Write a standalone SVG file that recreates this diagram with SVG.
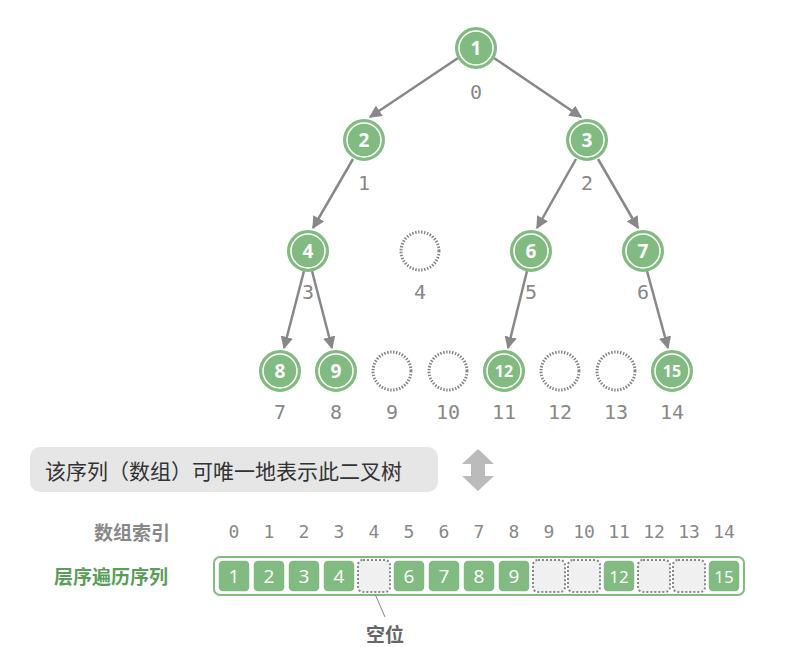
<svg xmlns="http://www.w3.org/2000/svg" width="786" height="647" viewBox="0 0 786 647">
<style>
.n circle.o{fill:#82bb82;stroke:#82bb82;stroke-width:2}
.n circle.i{fill:none;stroke:#fff;stroke-width:1.5}
.n text{fill:#fff;font:bold 19px "Open Sans","DejaVu Sans",sans-serif;text-anchor:middle;dominant-baseline:central}
.e circle{fill:#fff;stroke:#888;stroke-width:3;stroke-dasharray:1.5 1.5}
.idx{fill:#888;font:20px "DejaVu Sans Mono",monospace;text-anchor:middle;dominant-baseline:central}
.c rect.f{fill:#82bb82;stroke:#fff;stroke-width:1.5}
.c rect.g{fill:#f0f0f0;stroke:#888;stroke-width:2;stroke-dasharray:2 2}
.c text{fill:#fff;font:19px "Open Sans","DejaVu Sans",sans-serif;text-anchor:middle;dominant-baseline:central}
.ai{fill:#888;font:18px "DejaVu Sans Mono",monospace;text-anchor:middle;dominant-baseline:central}
.cn{font-family:"Noto Sans CJK SC",sans-serif}
</style>
<defs><marker id="ar" viewBox="0 0 10 10" refX="9" refY="5" markerWidth="5" markerHeight="5" orient="auto"><path d="M0 0L10 5L0 10z" fill="#888"/></marker></defs>
<g id="edges" stroke="#888" stroke-width="2.5" marker-end="url(#ar)">
<line x1="458" y1="58" x2="370" y2="117"/>
<line x1="494" y1="58" x2="581" y2="117"/>
<line x1="353" y1="159" x2="313" y2="228"/>
<line x1="576" y1="159" x2="537" y2="228"/>
<line x1="598" y1="159" x2="638" y2="228"/>
<line x1="304" y1="271" x2="284" y2="348"/>
<line x1="312" y1="271" x2="332" y2="348"/>
<line x1="527" y1="271" x2="508" y2="348"/>
<line x1="647" y1="271" x2="668" y2="348"/>
</g>
<g id="n1" class="n"><circle class="o" cx="476" cy="48" r="20"/><circle class="i" cx="476" cy="48" r="17"/><text x="476" y="48">1</text></g>
<g id="n2" class="n"><circle class="o" cx="364" cy="140" r="20"/><circle class="i" cx="364" cy="140" r="17"/><text x="364" y="140">2</text></g>
<g id="n3" class="n"><circle class="o" cx="587" cy="140" r="20"/><circle class="i" cx="587" cy="140" r="17"/><text x="587" y="140">3</text></g>
<g id="n4" class="n"><circle class="o" cx="308" cy="251" r="20"/><circle class="i" cx="308" cy="251" r="17"/><text x="308" y="251">4</text></g>
<g id="e4" class="e"><circle cx="420" cy="251" r="19"/></g>
<g id="n6" class="n"><circle class="o" cx="531" cy="251" r="20"/><circle class="i" cx="531" cy="251" r="17"/><text x="531" y="251">6</text></g>
<g id="n7" class="n"><circle class="o" cx="643" cy="251" r="20"/><circle class="i" cx="643" cy="251" r="17"/><text x="643" y="251">7</text></g>
<g id="n8" class="n"><circle class="o" cx="280" cy="371" r="20"/><circle class="i" cx="280" cy="371" r="17"/><text x="280" y="371">8</text></g>
<g id="n9" class="n"><circle class="o" cx="336" cy="371" r="20"/><circle class="i" cx="336" cy="371" r="17"/><text x="336" y="371">9</text></g>
<g id="e9" class="e"><circle cx="392" cy="371" r="19"/></g>
<g id="e10" class="e"><circle cx="448" cy="371" r="19"/></g>
<g id="n12" class="n"><circle class="o" cx="504" cy="371" r="20"/><circle class="i" cx="504" cy="371" r="17"/><text x="504" y="371" style="font-size:16px">12</text></g>
<g id="e12" class="e"><circle cx="560" cy="371" r="19"/></g>
<g id="e13" class="e"><circle cx="616" cy="371" r="19"/></g>
<g id="n15" class="n"><circle class="o" cx="672" cy="371" r="20"/><circle class="i" cx="672" cy="371" r="17"/><text x="672" y="371" style="font-size:16px">15</text></g>
<g id="idx">
<text class="idx" x="476" y="92">0</text><text class="idx" x="364" y="183">1</text><text class="idx" x="587" y="183">2</text>
<text class="idx" x="308" y="292">3</text><text class="idx" x="420" y="292">4</text><text class="idx" x="531" y="292">5</text><text class="idx" x="643" y="292">6</text>
<text class="idx" x="280" y="412">7</text><text class="idx" x="336" y="412">8</text><text class="idx" x="392" y="412">9</text><text class="idx" x="448" y="412">10</text><text class="idx" x="504" y="412">11</text><text class="idx" x="560" y="412">12</text><text class="idx" x="616" y="412">13</text><text class="idx" x="672" y="412">14</text>
</g>
<g id="caption"><rect x="30" y="447" width="408" height="45" rx="10" fill="#e6e6e6"/><text x="45" y="470" class="cn" font-size="21" fill="#333" dominant-baseline="central">该序列（数组）可唯一地表示此二叉树</text></g>
<g id="darrow" fill="#bbb"><path d="M478 449L494 464H485V476H494L478 491L462 476H471V464H462Z"/></g>
<text x="132" y="531" class="cn" font-size="19" font-weight="bold" fill="#888" text-anchor="middle" dominant-baseline="central">数组索引</text>
<text x="111" y="575" class="cn" font-size="19" font-weight="bold" fill="#5a9e5a" text-anchor="middle" dominant-baseline="central">层序遍历序列</text>
<g id="aidx">
<text class="ai" x="234" y="531">0</text><text class="ai" x="269" y="531">1</text><text class="ai" x="304" y="531">2</text><text class="ai" x="339" y="531">3</text><text class="ai" x="374" y="531">4</text><text class="ai" x="409" y="531">5</text><text class="ai" x="444" y="531">6</text><text class="ai" x="479" y="531">7</text><text class="ai" x="514" y="531">8</text><text class="ai" x="549" y="531">9</text><text class="ai" x="584" y="531">10</text><text class="ai" x="619" y="531">11</text><text class="ai" x="654" y="531">12</text><text class="ai" x="689" y="531">13</text><text class="ai" x="724" y="531">14</text>
</g>
<g id="array" class="c">
<rect x="214" y="557" width="530" height="38" rx="6" fill="#fff" stroke="#82bb82" stroke-width="2"/>
<rect class="f" x="218" y="560" width="32" height="32" rx="5"/><text x="234" y="576">1</text>
<rect class="f" x="253" y="560" width="32" height="32" rx="5"/><text x="269" y="576">2</text>
<rect class="f" x="288" y="560" width="32" height="32" rx="5"/><text x="304" y="576">3</text>
<rect class="f" x="323" y="560" width="32" height="32" rx="5"/><text x="339" y="576">4</text>
<rect class="g" x="358" y="560" width="32" height="32" rx="5"/>
<rect class="f" x="393" y="560" width="32" height="32" rx="5"/><text x="409" y="576">6</text>
<rect class="f" x="428" y="560" width="32" height="32" rx="5"/><text x="444" y="576">7</text>
<rect class="f" x="463" y="560" width="32" height="32" rx="5"/><text x="479" y="576">8</text>
<rect class="f" x="498" y="560" width="32" height="32" rx="5"/><text x="514" y="576">9</text>
<rect class="g" x="533" y="560" width="32" height="32" rx="5"/>
<rect class="g" x="568" y="560" width="32" height="32" rx="5"/>
<rect class="f" x="603" y="560" width="32" height="32" rx="5"/><text x="619" y="576" style="font-size:17px">12</text>
<rect class="g" x="638" y="560" width="32" height="32" rx="5"/>
<rect class="g" x="673" y="560" width="32" height="32" rx="5"/>
<rect class="f" x="708" y="560" width="32" height="32" rx="5"/><text x="724" y="576" style="font-size:17px">15</text>
</g>
<line x1="375" y1="594" x2="385" y2="617" stroke="#888" stroke-width="1"/>
<text x="385" y="633" class="cn" font-size="19" font-weight="bold" fill="#666" text-anchor="middle" dominant-baseline="central">空位</text>
</svg>
